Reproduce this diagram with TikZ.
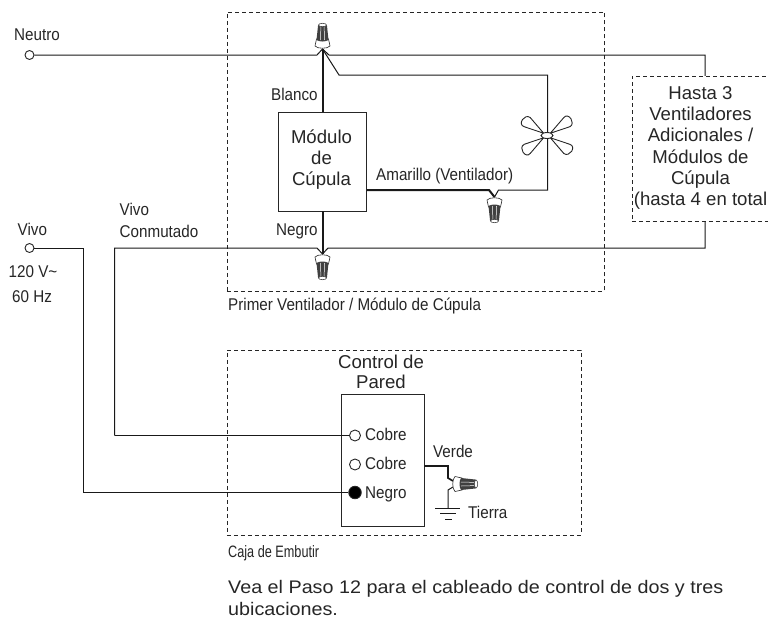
\documentclass[tikz,border=0pt]{standalone}
\usepackage{fontspec}
\setmainfont{Liberation Sans}
\usetikzlibrary{calc}
\tikzset{
 x=1pt,y=-1pt,
 wire/.style={draw=black!90,line width=1pt},
 thick wire/.style={draw=black!90,line width=2pt},
 group box/.style={draw=black!85,line width=.8pt,dash pattern=on 4pt off 3pt},
 device/.style={draw=black!85,line width=.9pt,fill=white},
 lbl/.style={inner sep=0pt,text=black!85,font=\fontsize{17}{18}\selectfont,xscale=.895,anchor=base west},
 body/.style={inner sep=0pt,text=black!85,font=\fontsize{18.6}{21.2}\selectfont,align=center},
 term/.style={circle,draw=black!85,line width=.9pt,fill=white,inner sep=0pt,minimum size=9pt},
 nut/.style={draw=black!85,line width=.6pt,fill=white}
}
\newcommand{\wirenut}[2]{% position, rotation; the open end is at the origin, the cap points to -y
 \begin{scope}[shift={#1},rotate=#2]
  \draw[nut] (-7.5,-3) .. controls (-7,-6) and (-6.5,-7) .. (-6,-10) -- (6,-10) .. controls (6.5,-7) and (7,-6) .. (7.5,-3) .. controls (5,0) and (-5,0) .. (-7.5,-3) -- cycle;
  \fill[black!75] (-6,-9) -- (-4.4,-24) -- (4.4,-24) -- (6,-9) .. controls (3,-7) and (-3,-7) .. (-6,-9) -- cycle;
  \draw[white,line width=.5pt] (-2,-9) -- (-1.6,-23) (2,-9) -- (1.6,-23);
  \fill[white,draw=black!75,line width=.6pt] (0,-24) ellipse (4 and 1.7);
 \end{scope}}
\begin{document}
\begin{tikzpicture}
\useasboundingbox (0,0) rectangle (768,619);
\fill[white] (0,0) rectangle (768,619);
% groups
\node[group box,minimum width=377.5,minimum height=279,inner sep=0pt,anchor=north west] (fanbox) at (226.5,11.5) {};
\node[group box,minimum width=354,minimum height=185,inner sep=0pt,anchor=north west] (wallbox) at (226.5,349.5) {};
% terminals
\node[term] (neutro) at (29.5,55) {};
\node[term] (vivo) at (29.5,248) {};
\coordinate (ntop) at (322.5,49);
\coordinate (nbot) at (322.5,254);
% neutral wires
\coordinate (nl) at (317,55);
\coordinate (nm) at (329,55);
\coordinate (nr) at (705,55);
\coordinate (nrb) at (705,76);
\draw[wire] (neutro) -- (nl) -- (ntop) -- (nm) -- (nr) -- (nrb);
% switched hot
\coordinate (vl) at (317,248);
\coordinate (vm) at (328,248);
\coordinate (vr) at (705,248);
\coordinate (vrb) at (705,221);
\coordinate (vc) at (114.5,248);
\coordinate (vd) at (114.5,435.5);
\draw[wire] (vd) -- (vc) -- (vl) -- (nbot) -- (vm) -- (vr) -- (vrb);
% extra box
\node[group box,minimum width=138,minimum height=145,inner sep=0pt,anchor=north west,fill=white] (morebox) at (631.5,76) {};
% hot
\coordinate (va) at (83,248);
\coordinate (vb) at (83,492.5);
% fan wire
\coordinate (fa) at (339,75);
\coordinate (fb) at (547.5,75);
\coordinate (fc) at (547.5,190);
\coordinate (fd) at (498.5,190);
\coordinate (yn) at (494.5,197);
\draw[wire] (ntop) -- (fa) -- (fb) -- (fc) -- (fd) -- (yn);
% module
\node[device,minimum width=88.5,minimum height=99,inner sep=0pt,anchor=north west] (modulo) at (277.5,111.5) {};
\node[body,anchor=center] (modtxt) at (321.5,159.5) {Módulo\\de\\Cúpula};
\draw[thick wire] (ntop) -- (modulo.north -| ntop);
\draw[thick wire] (nbot) -- (modulo.south -| nbot);
\coordinate (am) at (489,190);
\draw[thick wire] (modulo.east |- am) -- (am) -- (yn);
\wirenut{(ntop)}{0}
\wirenut{(nbot)}{180}
\wirenut{(yn)}{180}
% fan
\begin{scope}[shift={(547,135.5)}]
 \foreach \a in {34,146,214,326}{
 \begin{scope}[rotate=\a]
  \draw[device] (4,0) -- (24,-5.5) .. controls (31,-7.5) and (31,6) .. (24,5.5) -- cycle;
 \end{scope}}
 \draw[device] (0,0) ellipse (6 and 3);
\end{scope}
% wall control
\node[device,minimum width=83,minimum height=132,inner sep=0pt,anchor=north west] (control) at (340.5,393.5) {};
\node[term,minimum size=11pt] (t1) at (355,435.5) {};
\node[term,minimum size=11pt] (t2) at (355,464.5) {};
\node[term,fill=black,minimum size=12.5pt] (t3) at (355,492.5) {};
\draw[wire] (vd) -- (t1);
\draw[wire] (vivo) -- (va) -- (vb) -- (t3);
\coordinate (g1) at (448,466);
\coordinate (g2) at (448,478);
\coordinate (g3) at (453,481);
\coordinate (g4) at (448,490);
\coordinate (g5) at (448,508);
\coordinate (g6) at (453,487);
\draw[thick wire,line width=1.7pt] (control.east |- g1) -- (g1) -- (g2) -- (g3);
\draw[wire] (g6) -- (g4) -- (g5);
\draw[wire] (435,508) -- (460,508);
\draw[wire] (440,513.5) -- (456,513.5);
\draw[wire] (445,519) -- (452,519);
\wirenut{(452,484)}{-90}
% labels
\node[lbl] (l1) at (14,40.5) {Neutro};
\node[lbl] (l2) at (17.5,235) {Vivo};
\node[lbl] (l3) at (8.5,277.5) {120 V\textasciitilde};
\node[lbl] (l4) at (12,302) {60 Hz};
\node[lbl] (l5) at (119.5,215) {Vivo};
\node[lbl] (l6) at (119.5,237.5) {Conmutado};
\node[lbl] (l7) at (271,100) {Blanco};
\node[lbl] (l8) at (276,235) {Negro};
\node[lbl] (l9) at (376,180) {Amarillo (Ventilador)};
\node[lbl] (l10) at (228,310.5) {Primer Ventilador / Módulo de Cúpula};
\node[lbl,xscale=.86,font=\fontsize{16.5}{18}\selectfont] (l11) at (228,557.5) {Caja de Embutir};
\node[lbl] (l12) at (365,440) {Cobre};
\node[lbl] (l13) at (365,469) {Cobre};
\node[lbl] (l14) at (365,498) {Negro};
\node[lbl] (l15) at (433,457) {Verde};
\node[lbl] (l16) at (468,518) {Tierra};
\node[body,anchor=center] (l17) at (700.5,148) {Hasta 3\\Ventiladores\\Adicionales /\\Módulos de\\Cúpula\\(hasta 4 en total};
\node[body,anchor=center,font=\fontsize{18.6}{19.5}\selectfont] (l18) at (381,372) {Control de\\Pared};
\node[body,anchor=north west,align=left,xscale=1.085,font=\fontsize{18.2}{22}\selectfont] (l19) at (228,580) {Vea el Paso 12 para el cableado de control de dos y tres\\ubicaciones.};
\end{tikzpicture}
\end{document}
